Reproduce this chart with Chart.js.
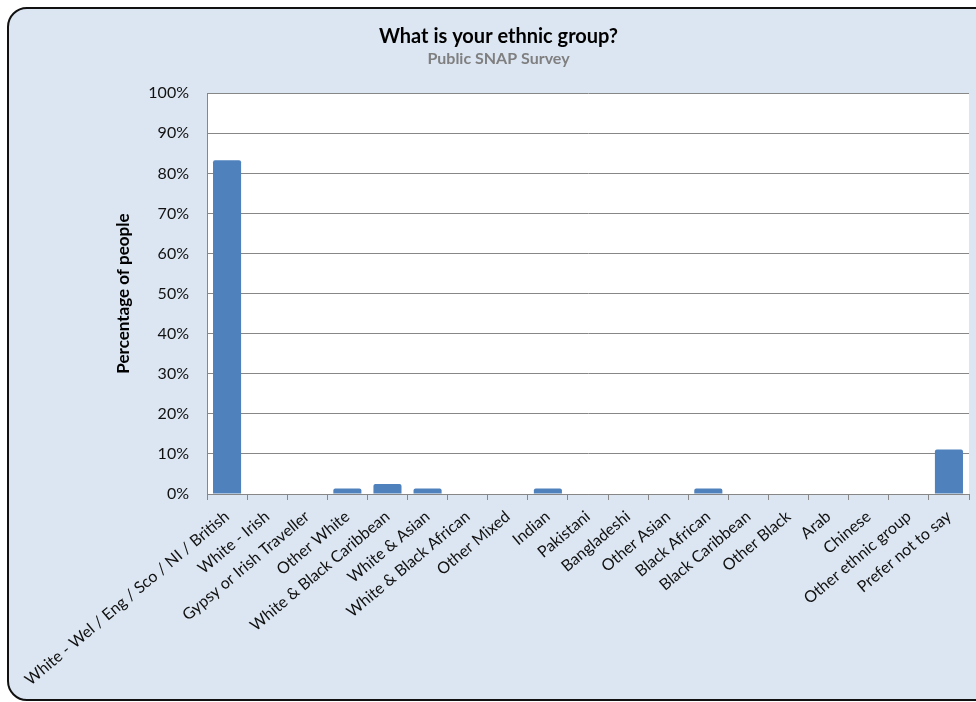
<!DOCTYPE html>
<html>
<head>
<meta charset="utf-8">
<script src="https://cdn.jsdelivr.net/npm/chart.js@4"></script>
<style>
  html, body { margin: 0; padding: 0; background: #fff; overflow: hidden; }
  #frame {
    position: absolute; left: 7px; top: 7px;
    width: 1010px; height: 690px;
    border: 2px solid #111; border-radius: 20px;
    background: #dce6f2;
  }
  #wrap { position: absolute; left: 0; top: 0; width: 976px; height: 702px; }
</style>
</head>
<body>
<div id="frame"></div>
<div id="wrap"><canvas id="chart" width="976" height="702"></canvas></div>
<script>
// data
const categories = [
  'White - Wel / Eng / Sco / NI / British', 'White - Irish', 'Gypsy or Irish Traveller',
  'Other White', 'White & Black Caribbean', 'White & Asian', 'White & Black African',
  'Other Mixed', 'Indian', 'Pakistani', 'Bangladeshi', 'Other Asian', 'Black African',
  'Black Caribbean', 'Other Black', 'Arab', 'Chinese', 'Other ethnic group', 'Prefer not to say'
];
const percentages = [83.3, 0, 0, 1.4, 2.5, 1.4, 0, 0, 1.4, 0, 0, 0, 1.4, 0, 0, 0, 0, 0, 11.1];
const yTicks = [0, 10, 20, 30, 40, 50, 60, 70, 80, 90, 100];

const FONT = 'Lato, "Open Sans", sans-serif';
const GRID = '#878787';

// white plot area on the blue chart background
const plotBackground = {
  id: 'plotBackground',
  beforeDraw(chart) {
    const { ctx, chartArea: a } = chart;
    ctx.save();
    ctx.fillStyle = '#ffffff';
    ctx.fillRect(a.left, a.top, a.right - a.left, a.bottom - a.top);
    ctx.restore();
  }
};

new Chart(document.getElementById('chart'), {
  type: 'bar',
  data: {
    labels: categories,
    datasets: [{
      label: 'Percentage of people',
      data: percentages,
      backgroundColor: '#4f81bd',
      borderWidth: 0,
      borderRadius: { topLeft: 2, topRight: 2 },
      borderSkipped: 'bottom',
      barPercentage: 0.7,
      categoryPercentage: 1.0
    }]
  },
  options: {
    responsive: false,
    animation: false,
    layout: { padding: { left: 28, right: 7, top: 0, bottom: 0 } },
    plugins: {
      legend: { display: false },
      tooltip: { enabled: false },
      title: {
        display: true,
        text: 'What is your ethnic group?',
        color: '#000',
        font: { family: FONT, size: 20, weight: 'bold' },
        padding: { top: 25, bottom: 0 }
      },
      subtitle: {
        display: true,
        text: 'Public SNAP Survey',
        color: '#7f7f7f',
        font: { family: FONT, size: 16, weight: 'bold' },
        padding: { top: 0, bottom: 25 }
      }
    },
    scales: {
      x: {
        grid: { drawOnChartArea: false, drawTicks: true, tickLength: 6, color: GRID },
        border: { color: GRID, width: 1 },
        ticks: {
          autoSkip: false, minRotation: 40, maxRotation: 40,
          color: '#111', font: { family: FONT, size: 16 }, padding: 7
        },
        afterFit: s => { s.height = 208; }
      },
      y: {
        min: 0, max: 100,
        afterBuildTicks: s => { s.ticks = yTicks.map(v => ({ value: v })); },
        grid: { color: GRID, drawTicks: false },
        border: { color: GRID, width: 1 },
        ticks: {
          color: '#111', font: { family: FONT, size: 16 }, padding: 18,
          callback: v => v + '%'
        },
        title: {
          display: true,
          text: 'Percentage of people',
          color: '#000',
          font: { family: FONT, size: 17, weight: 'bold' },
          padding: { top: 85, bottom: 0 }
        },
        afterFit: s => { s.width = 179; }
      }
    }
  },
  plugins: [plotBackground]
});
</script>
</body>
</html>
